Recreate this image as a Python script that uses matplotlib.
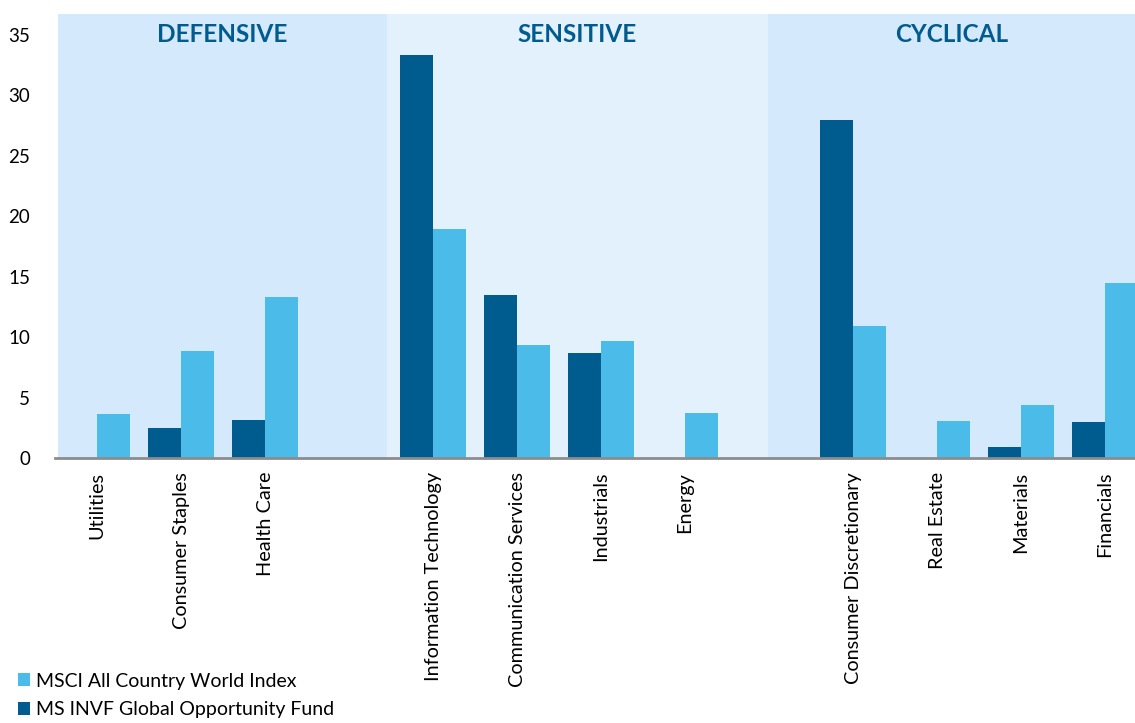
import numpy as np
import matplotlib
matplotlib.use("Agg")
import matplotlib.pyplot as plt

plt.rcParams["font.family"] = ["Lato", "DejaVu Sans"]

# --- data -------------------------------------------------------------
SECTORS = ["Utilities", "Consumer Staples", "Health Care", "",
           "Information Technology", "Communication Services", "Industrials", "Energy", "",
           "Consumer Discretionary", "Real Estate", "Materials", "Financials"]
FUND = [0, 2.5, 3.1, 0, 33.3, 13.5, 8.7, 0, 0, 27.9, 0, 0.9, 3.0]
MSCI = [3.6, 8.85, 13.3, 0, 18.9, 9.35, 9.7, 3.7, 0, 10.9, 3.06, 4.4, 14.5]
GROUPS = ["DEFENSIVE", "SENSITIVE", "CYCLICAL"]
GROUP_SPANS = [(-0.464, 3.452), (3.452, 7.988), (7.988, 12.36)]
GROUP_COLORS = ["#d5e9fc", "#e3f1fd", "#d5e9fc"]

DARK = "#005b8f"
LIGHT = "#4bbbe9"

fig = plt.figure(figsize=(11.35, 7.23), dpi=100)
ax = fig.add_axes([55/1135, 1 - 458/723, 1 - 55/1135, (458 - 14)/723])

for (a, b), c, g in zip(GROUP_SPANS, GROUP_COLORS, GROUPS):
    ax.axvspan(a, b, color=c, lw=0, zorder=0)
    ax.text((a + b) / 2, 35.0, g, ha="center", va="center",
            fontsize=17.5, fontweight="bold", color=DARK)

x = np.arange(len(SECTORS))
w = 0.39
ax.bar(x - w/2, FUND, width=w, color=DARK, zorder=2,
       label="MS INVF Global Opportunity Fund")
ax.bar(x + w/2, MSCI, width=w, color=LIGHT, zorder=2,
       label="MSCI All Country World Index")

ax.set_xlim(-0.5, 12.357)
ax.set_ylim(0, 36.7)
ax.set_yticks(range(0, 36, 5))
ax.set_xticks(x)
ax.set_xticklabels(SECTORS, rotation=90, fontsize=14.3)
ax.tick_params(axis="y", labelsize=13.5)
ax.tick_params(axis="both", length=0)
ax.tick_params(axis="x", pad=10)
ax.tick_params(axis="y", pad=18)
for s in ["top", "right", "left"]:
    ax.spines[s].set_visible(False)
ax.spines["bottom"].set_color("#8c8c8c")
ax.spines["bottom"].set_linewidth(2)
ax.spines["bottom"].set_zorder(3)

handles, labels = ax.get_legend_handles_labels()
fig.legend(handles[::-1], labels[::-1], loc="lower left",
           bbox_to_anchor=(10/1135, -3/723), frameon=False, fontsize=14,
           handlelength=0.65, handleheight=0.65, handletextpad=0.3,
           labelspacing=0.6, borderaxespad=0)

fig.savefig("out.png", dpi=100)
